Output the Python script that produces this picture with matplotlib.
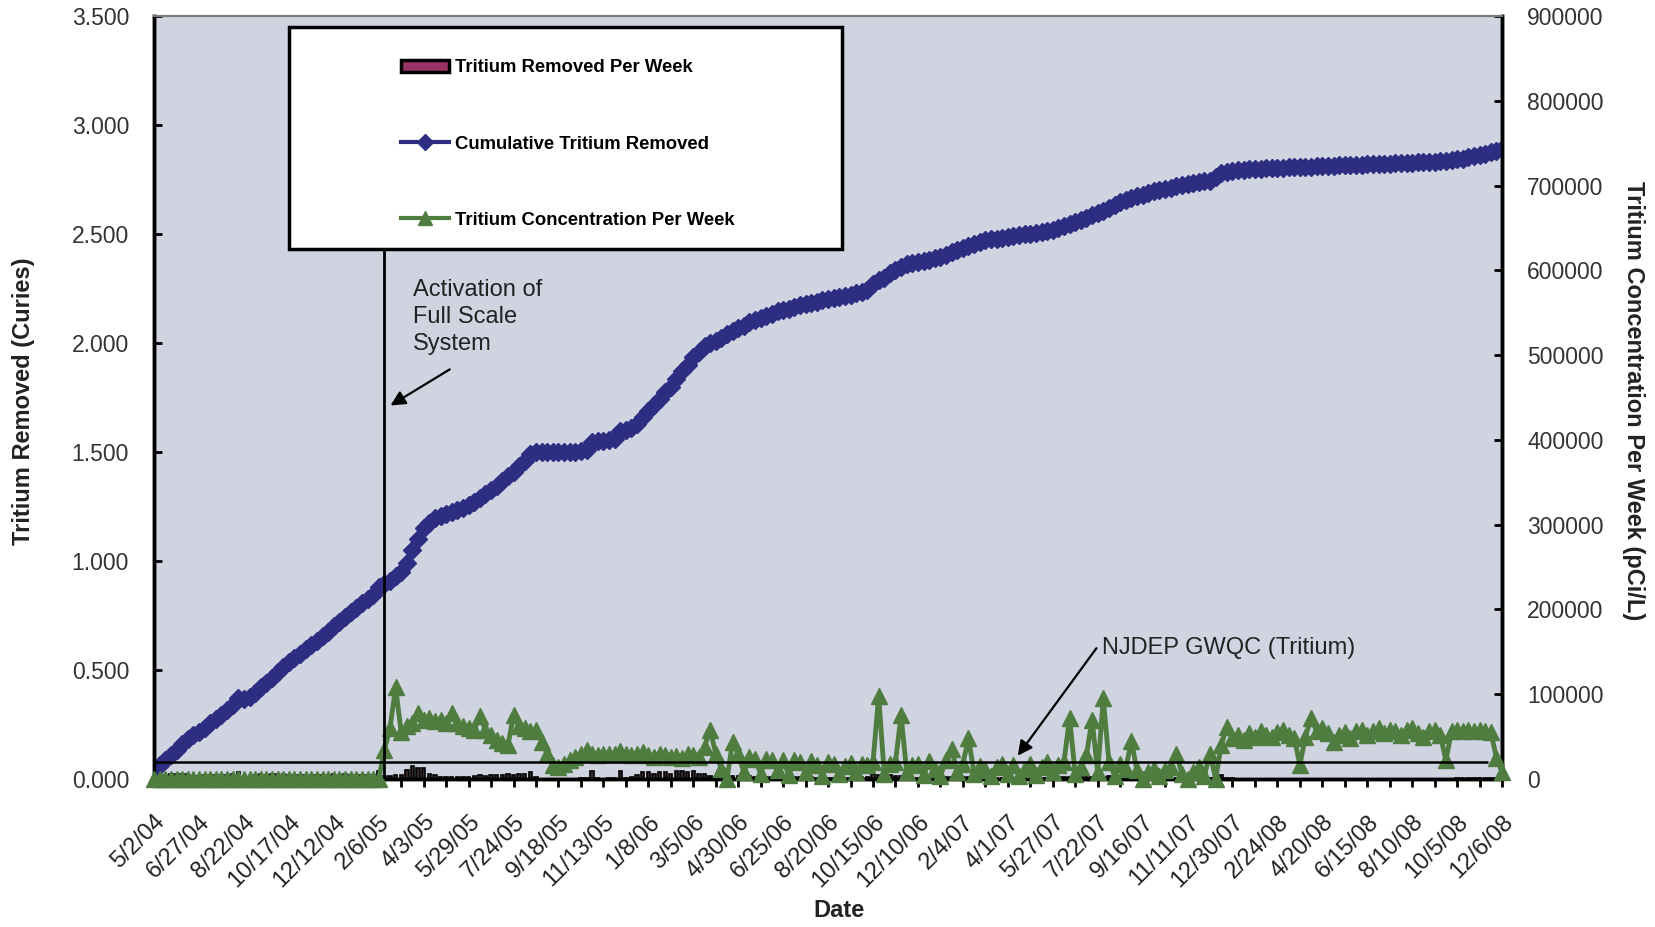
import numpy as np
import matplotlib
matplotlib.use("Agg")
import matplotlib.pyplot as plt
from matplotlib.patches import Rectangle
from matplotlib.lines import Line2D
from matplotlib.ticker import FormatStrFormatter, MultipleLocator

plt.rcParams['font.family'] = ['Liberation Sans', 'DejaVu Sans']

# ── Data (weekly categories, labels every 8 weeks) ──
tick_labels = ["5/2/04", "6/27/04", "8/22/04", "10/17/04", "12/12/04", "2/6/05",
               "4/3/05", "5/29/05", "7/24/05", "9/18/05", "11/13/05", "1/8/06",
               "3/5/06", "4/30/06", "6/25/06", "8/20/06", "10/15/06", "12/10/06",
               "2/4/07", "4/1/07", "5/27/07", "7/22/07", "9/16/07", "11/11/07",
               "12/30/07", "2/24/08", "4/20/08", "6/15/08", "8/10/08", "10/5/08",
               "12/6/08"]

# cumulative tritium removed (Curies)
cumulative = [
    0.050, 0.065, 0.085, 0.110, 0.135, 0.160, 0.185, 0.200,
    0.215, 0.235, 0.255, 0.275, 0.295, 0.315, 0.340, 0.370,
    0.365, 0.375, 0.395, 0.420, 0.440, 0.465, 0.490, 0.515,
    0.535, 0.555, 0.575, 0.595, 0.615, 0.635, 0.655, 0.675,
    0.700, 0.720, 0.745, 0.765, 0.785, 0.805, 0.825, 0.845,
    0.880, 0.895, 0.910, 0.930, 0.950, 0.990, 1.050, 1.100,
    1.150, 1.175, 1.195, 1.205, 1.215, 1.225, 1.235, 1.245,
    1.255, 1.270, 1.290, 1.305, 1.325, 1.345, 1.365, 1.390,
    1.410, 1.435, 1.460, 1.490, 1.500, 1.500, 1.500, 1.500,
    1.500, 1.500, 1.500, 1.500, 1.505, 1.510, 1.545, 1.550,
    1.550, 1.555, 1.560, 1.595, 1.600, 1.610, 1.630, 1.660,
    1.690, 1.715, 1.745, 1.775, 1.800, 1.835, 1.870, 1.900,
    1.935, 1.960, 1.985, 2.000, 2.010, 2.025, 2.040, 2.055,
    2.070, 2.080, 2.095, 2.105, 2.115, 2.125, 2.135, 2.145,
    2.150, 2.158, 2.165, 2.172, 2.178, 2.185, 2.190, 2.196,
    2.200, 2.205, 2.210, 2.215, 2.220, 2.228, 2.235, 2.245,
    2.270, 2.290, 2.300, 2.320, 2.335, 2.350, 2.360, 2.365,
    2.370, 2.375, 2.380, 2.388, 2.395, 2.405, 2.415, 2.425,
    2.435, 2.445, 2.455, 2.465, 2.470, 2.475, 2.478, 2.482,
    2.486, 2.490, 2.494, 2.498, 2.502, 2.506, 2.510, 2.515,
    2.520, 2.528, 2.536, 2.545, 2.555, 2.565, 2.575, 2.585,
    2.595, 2.605, 2.620, 2.635, 2.645, 2.655, 2.665, 2.672,
    2.680, 2.688, 2.695, 2.700, 2.706, 2.712, 2.718, 2.724,
    2.730, 2.734, 2.738, 2.742, 2.745, 2.760, 2.780, 2.785,
    2.790, 2.792, 2.794, 2.796, 2.798, 2.800, 2.801, 2.802,
    2.803, 2.804, 2.805, 2.806, 2.807, 2.808, 2.809, 2.810,
    2.811, 2.812, 2.813, 2.814, 2.815, 2.816, 2.817, 2.818,
    2.819, 2.820, 2.821, 2.822, 2.823, 2.824, 2.825, 2.826,
    2.827, 2.828, 2.829, 2.830, 2.832, 2.834, 2.836, 2.838,
    2.842, 2.846, 2.851, 2.856, 2.862, 2.868, 2.874, 2.880,
    2.890,
]

# tritium concentration per week (pCi/L)
concentration = [
    0, 0, 0, 0, 0, 0, 0, 0,
    0, 0, 0, 0, 0, 0, 0, 0,
    0, 0, 0, 0, 0, 0, 0, 0,
    0, 0, 0, 0, 0, 0, 0, 0,
    0, 0, 0, 0, 0, 0, 0, 0,
    0, 34000, 60000, 108000, 55000, 62000, 66000, 78000,
    70000, 72000, 68000, 70000, 66000, 78000, 66000, 62000,
    60000, 58000, 74000, 58000, 52000, 46000, 42000, 40000,
    75000, 62000, 60000, 56000, 58000, 44000, 30000, 16000,
    14000, 18000, 22000, 26000, 30000, 34000, 30000, 28000,
    30000, 29000, 30000, 33000, 30000, 28000, 30000, 32000,
    28000, 26000, 30000, 28000, 26000, 27000, 25000, 30000,
    28000, 26000, 38000, 58000, 30000, 12000, 0, 44000,
    30000, 8000, 26000, 24000, 6000, 24000, 22000, 10000,
    22000, 5000, 22000, 20000, 8000, 21000, 17000, 4000,
    20000, 18000, 6000, 15000, 19000, 8000, 18000, 17000,
    20000, 98000, 6000, 18000, 20000, 75000, 8000, 16000,
    18000, 5000, 21000, 12000, 4000, 22000, 35000, 8000,
    18000, 48000, 6000, 15000, 10000, 3000, 14000, 18000,
    6000, 16000, 4000, 12000, 18000, 5000, 14000, 20000,
    8000, 16000, 20000, 72000, 6000, 14000, 28000, 70000,
    8000, 95000, 20000, 4000, 18000, 12000, 45000, 10000,
    0, 8000, 12000, 4000, 10000, 14000, 30000, 6000,
    0, 8000, 14000, 4000, 30000, 0, 40000, 61000,
    48000, 52000, 46000, 54000, 50000, 56000, 52000, 50000,
    55000, 58000, 52000, 48000, 17000, 50000, 72000, 56000,
    60000, 54000, 44000, 52000, 55000, 48000, 56000, 58000,
    52000, 56000, 60000, 54000, 58000, 56000, 52000, 58000,
    60000, 54000, 50000, 56000, 58000, 52000, 22000, 56000,
    58000, 57000, 58000, 56000, 58000, 57000, 55000, 25000,
    8000,
]

GWQC = 20000          # NJDEP groundwater quality criterion, pCi/L
ACTIVATION_WEEK = 41  # full scale system start

weeks = np.arange(len(cumulative))
removed_per_week = np.diff(cumulative, prepend=0.0)

# ── Colours ──
NAVY = "#2D2E82"
GREEN = "#4E7D3F"
BAR = "#993366"
BG = "#CFD4E0"

fig = plt.figure(figsize=(16.55, 9.27), dpi=100)
ax = fig.add_axes([0.0931, 0.1597, 0.8145, 0.8231])
ax2 = ax.twinx()

ax.set_facecolor(BG)
ax2.patch.set_visible(False)

ax.bar(weeks, removed_per_week, width=0.6, color="#3A2630", edgecolor="black", linewidth=1.2, zorder=2)
ax.plot(weeks, cumulative, color=NAVY, lw=4, marker="D", ms=9, zorder=3)
ax2.plot(weeks, concentration, color=GREEN, lw=3.5, marker="^", ms=12, zorder=3, clip_on=False)

ax2.hlines(GWQC, 0, len(cumulative) - 3.5, color="black", lw=1.8, zorder=4)
ax2.axvline(ACTIVATION_WEEK, 0, 0.695, color="black", lw=2, zorder=4)

# axes limits and ticks
ax.set_xlim(0, len(cumulative) - 1)
ax.set_ylim(0, 3.5)
ax2.set_ylim(0, 900000)
ax.yaxis.set_major_locator(MultipleLocator(0.5))
ax.yaxis.set_major_formatter(FormatStrFormatter("%.3f"))
ax2.yaxis.set_major_locator(MultipleLocator(100000))
ax2.yaxis.set_major_formatter(FormatStrFormatter("%d"))

ax.set_xticks(np.arange(0, len(cumulative), 8))
ax.set_xticklabels(tick_labels, rotation=45, ha="right", va="top", rotation_mode="anchor")
ax.set_xticks(np.arange(0, len(cumulative), 4), minor=True)
ax.tick_params(axis="x", which="both", direction="out", length=6, width=2, color="black")
ax.tick_params(axis="x", which="major", labelsize=17, pad=17, labelcolor="#222222")
ax.tick_params(axis="y", direction="in", length=6, width=2, labelsize=16.5, pad=18, labelcolor="#333333")
ax2.tick_params(axis="y", direction="in", length=6, width=2, labelsize=16.5, pad=18, labelcolor="#333333")

for a in (ax, ax2):
    for side in ("left", "right", "bottom"):
        a.spines[side].set_linewidth(2.5)
        a.spines[side].set_color("black")
    a.spines["top"].set_linewidth(1.5)
    a.spines["top"].set_color("#7A7A7A")

# axis titles
fig.text(0.0139, 0.5674, "Tritium Removed (Curies)", rotation=90, ha="center", va="center",
         fontsize=17, fontweight="bold", color="#222222")
fig.text(0.9873, 0.5674, "Tritium Concentration Per Week (pCi/L)", rotation=-90, ha="center",
         va="center", fontsize=17, fontweight="bold", color="#222222")
fig.text(0.507, 0.0183, "Date", ha="center", va="center", fontsize=17, fontweight="bold",
         color="#222222")

# legend box
frame = Rectangle((0.1001, 0.6946), 0.4103, 0.291, transform=ax2.transAxes, facecolor="white",
                  edgecolor="black", lw=2.5, zorder=5)
ax2.add_patch(frame)
handles = [
    Rectangle((0, 0), 1, 1, facecolor=BAR, edgecolor="black", lw=2.5),
    Line2D([], [], color=NAVY, lw=3, marker="D", ms=8),
    Line2D([], [], color=GREEN, lw=3, marker="^", ms=10),
]
labels = ["Tritium Removed Per Week", "Cumulative Tritium Removed", "Tritium Concentration Per Week"]
leg = ax2.legend(handles, labels, loc="upper left", bbox_to_anchor=(0.183, 0.943), frameon=False,
                 borderpad=0, borderaxespad=0, labelspacing=3.2, handlelength=2.6,
                 handletextpad=0.35, prop={"weight": "bold", "size": 13.3})
leg.set_zorder(6)

# annotations
ax2.text(0.1921, 0.655, "Activation of\nFull Scale\nSystem", transform=ax2.transAxes,
         ha="left", va="top", fontsize=17, linespacing=1.3, color="#222222", zorder=6)
ax2.annotate("", xy=(0.1736, 0.4876), xytext=(0.2211, 0.5387), xycoords="axes fraction",
             arrowprops=dict(arrowstyle="-|>", color="black", lw=1.6, mutation_scale=22), zorder=6)

ax2.text(0.7033, 0.1717, "NJDEP GWQC (Tritium)", transform=ax2.transAxes, ha="left", va="center",
         fontsize=17, color="#222222", zorder=6)
ax2.annotate("", xy=(0.6395, 0.0275), xytext=(0.7003, 0.1743), xycoords="axes fraction",
             arrowprops=dict(arrowstyle="-|>", color="black", lw=1.6, mutation_scale=22), zorder=6)

fig.savefig("out.png", dpi=100)
